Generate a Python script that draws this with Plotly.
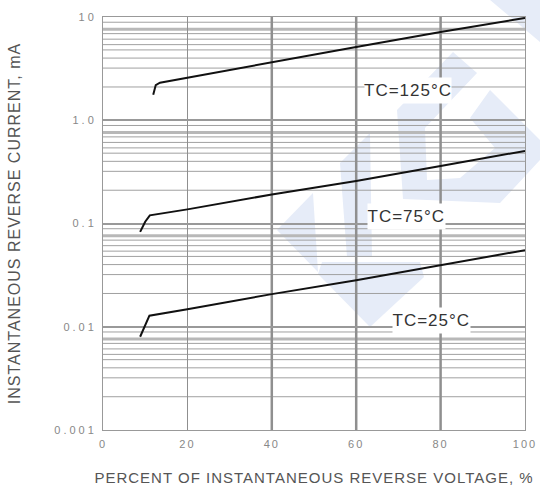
import numpy as np
import plotly.graph_objects as go

# ---------------- data ----------------
x_125 = [11.9, 12.5, 13.5, 40, 60, 80, 100]
y_125 = [1.77, 2.19, 2.31, 3.67, 5.13, 7.17, 9.8]

x_75 = [8.8, 10.0, 11.1, 20, 40, 60, 80, 100]
y_75 = [0.083, 0.104, 0.120, 0.137, 0.191, 0.258, 0.361, 0.505]

x_25 = [8.8, 11.0, 20, 40, 60, 80, 100]
y_25 = [0.0080, 0.0128, 0.0148, 0.0207, 0.0282, 0.0395, 0.0552]

curve_labels = ["TC=125°C", "TC=75°C", "TC=25°C"]
label_x = [72.3, 72.0, 77.9]
label_y = [1.95, 0.118, 0.0116]

x_ticks = [0, 20, 40, 60, 80, 100]
y_tickvals = [0.001, 0.01, 0.1, 1, 10]
y_ticktext = ["0.001", "0.01", "0.1", "1.0", "10"]

decades = [0.001, 0.01, 0.1, 1]
minor_mult = [2.1, 3.2, 4.0, 4.8, 5.4, 6.1, 6.9, 8.9]
thick_mult = [7.6]
x_thick_grid = [40, 60, 80]

# ---------------- figure ----------------
W, H = 540, 491
L, R, T, B = 103, 15, 17, 61
pw, ph = W - L - R, H - T - B

fig = go.Figure()
for xs, ys in [(x_125, y_125), (x_75, y_75), (x_25, y_25)]:
    fig.add_trace(go.Scatter(x=xs, y=ys, mode="lines",
                             line=dict(color="#111111", width=2),
                             showlegend=False, hoverinfo="skip"))

shapes = []
# watermark (pixel coordinates -> paper)
def px(pts):
    s = ""
    for i, (a, b) in enumerate(pts):
        s += ("M" if i == 0 else "L") + f"{(a - L) / pw:.4f},{(H - B - b) / ph:.4f}"
    return s + "Z"

wm_color = "rgb(230,236,248)"
wm_polys = [
    [(490, 0), (540, 0), (540, 42)],
    [(277, 230), (313, 193), (318, 272)],
    [(340, 163), (370, 133), (372, 257), (347, 257)],
    [(322, 262), (420, 262), (424, 277), (370, 327), (318, 274)],
    [(397, 110), (453, 52), (477, 73), (425, 128), (427, 180), (460, 178),
     (495, 148), (470, 118), (490, 90), (540, 140), (540, 160), (500, 203), (403, 199)],
]
for p in wm_polys:
    shapes.append(dict(type="path", path=px(p), xref="paper", yref="paper",
                       fillcolor=wm_color, line=dict(width=0), layer="below"))

# horizontal grid lines (values in data units on the log axis)
for d in decades:
    for m in minor_mult:
        v = d * m
        shapes.append(dict(type="line", xref="paper", yref="y", x0=0, x1=1, y0=v, y1=v,
                           line=dict(color="#a0a0a0", width=1), layer="below"))
    for m in thick_mult:
        v = d * m
        shapes.append(dict(type="line", xref="paper", yref="y", x0=0, x1=1, y0=v, y1=v,
                           line=dict(color="#b8b8b8", width=3), layer="below"))
for xv in x_thick_grid:
    shapes.append(dict(type="line", xref="x", yref="paper", x0=xv, x1=xv, y0=0, y1=1,
                       line=dict(color="#8f8f8f", width=2.5), layer="below"))

annotations = []
for t, xv, yv in zip(curve_labels, label_x, label_y):
    annotations.append(dict(x=xv, y=np.log10(yv), xref="x", yref="y", text=t,
                            showarrow=False, bgcolor="white", borderpad=3,
                            font=dict(family="Liberation Sans, Arial", size=17, color="#333333")))

fig.update_layout(
    width=W, height=H,
    margin=dict(l=L, r=R, t=T, b=B, autoexpand=False),
    paper_bgcolor="white", plot_bgcolor="rgba(0,0,0,0)",
    shapes=shapes, annotations=annotations,
    font=dict(family="Liberation Sans, Arial", color="#666666"),
)
fig.update_xaxes(
    range=[0, 100], tickvals=x_ticks, ticks="", showgrid=True,
    gridcolor="#8f8f8f", gridwidth=1, zeroline=False,
    showline=True, linecolor="#999999", linewidth=1, mirror=True,
    tickfont=dict(size=11, color="#888888"), ticklabelstandoff=4,
    title=dict(text="PERCENT OF INSTANTANEOUS REVERSE VOLTAGE, %",
               font=dict(size=15, color="#555555"), standoff=23),
)
fig.update_yaxes(
    type="log", range=[-3, 1], tickvals=y_tickvals, ticktext=y_ticktext, ticks="",
    showgrid=True, gridcolor="#999999", gridwidth=1.5, zeroline=False,
    showline=True, linecolor="#999999", linewidth=1, mirror=True,
    tickfont=dict(size=11, color="#888888"), ticklabelstandoff=3,
    title=dict(text="INSTANTANEOUS REVERSE CURRENT, mA",
               font=dict(size=16, color="#555555"), standoff=44),
)

post = """
document.body.style.margin = '0';
var gd = document.getElementById('{plot_id}');
function ls(sel, v){ gd.querySelectorAll(sel).forEach(function(e){ e.style.letterSpacing = v; }); }
ls('.xtick text', '2px'); ls('.ytick text', '3px');
ls('text.xtitle', '1px'); ls('text.ytitle', '1px');
ls('.annotation-text', '1px');
"""
fig.write_html("out.html", post_script=post, config={"displayModeBar": False})
